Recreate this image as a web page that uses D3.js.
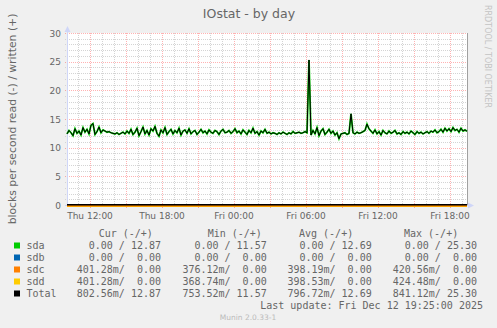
<!DOCTYPE html>
<meta charset="utf-8">
<style>
  body { margin: 0; background: #f0f0f0; }
  svg { display: block; font-family: "DejaVu Sans", sans-serif; }
  .mono { font-family: "DejaVu Sans Mono", monospace; font-size: 10px; fill: #666; white-space: pre; }
</style>
<body>
<svg width="497" height="328"></svg>

<script src="https://cdn.jsdelivr.net/npm/d3@7"></script>
<script>

// sda written, blocks/s, one reading every 10 minutes from Thu 10:05 to Fri 19:25
var written = [
  12.4, 13.0, 12.6, 12.1, 13.3, 12.5, 12.9, 12.2, 13.5, 12.7,
  13.2, 12.4, 13.9, 14.2, 12.3, 12.8, 13.6, 12.6, 13.1, 12.9,
  12.7, 12.8, 12.6, 12.5, 12.4, 12.6, 12.3, 12.5, 12.7, 12.4,
  12.9, 12.5, 13.2, 12.3, 12.7, 13.4, 12.1, 12.8, 13.6, 12.4,
  13.0, 12.2, 13.3, 12.9, 13.7, 12.5, 12.0, 13.1, 12.6, 13.5,
  12.3, 12.8, 13.2, 12.4, 13.0, 12.6, 13.4, 12.2, 12.9, 13.1,
  12.5, 13.3, 12.4, 12.8, 13.0, 12.3, 12.7,
  13.2, 12.6, 12.9, 12.4, 13.1, 12.7, 12.5, 13.0, 12.8, 12.3,
  12.9, 13.2, 12.6, 12.7, 13.0, 12.5, 12.8, 13.3, 12.6, 12.9,
  12.4, 13.1, 12.7, 12.3, 13.0, 12.6, 13.4, 12.5, 12.8, 12.2,
  12.9, 12.6, 13.2, 12.5, 12.7, 12.4, 12.6, 12.5, 12.3, 12.6,
  12.4, 12.7, 12.5, 12.3, 12.6, 12.4, 12.8, 12.5, 12.6, 12.7,
  12.5, 12.6, 12.8, 12.6,
  25.3,
  12.2, 13.0, 12.4, 13.5, 12.1, 12.9, 13.3, 12.3, 12.7, 13.2,
  12.5, 12.9, 12.2, 12.6, 11.57, 12.4, 12.5, 12.6, 12.3, 12.5,
  15.9,
  12.6, 12.4, 12.7, 12.5, 12.6, 12.8, 13.0,
  14.1,
  13.3, 12.9, 12.5, 13.1, 12.4, 12.8, 12.2, 13.0, 12.6, 12.4,
  12.9, 12.5, 12.7, 13.0, 12.4, 12.6, 12.3, 12.8, 12.5, 12.7,
  12.4, 12.9, 12.6, 12.3, 12.8, 12.5, 12.7, 12.4, 12.6, 12.8,
  12.5, 12.9, 12.7, 13.1, 12.6, 12.8, 13.2, 12.7, 13.4, 12.9,
  13.3, 12.8, 13.5, 13.0, 13.2, 12.7, 13.4, 12.9, 13.1,
  12.87
];

// read values (shown below zero), coarser sampling every 200 minutes
var sdcRead   = [0.40, 0.39, 0.40, 0.41, 0.38, 0.40, 0.42, 0.40, 0.39, 0.40, 0.40];
var sddRead   = [0.40, 0.40, 0.39, 0.41, 0.37, 0.40, 0.42, 0.40, 0.40, 0.39, 0.40];
var totalRead = [0.80, 0.79, 0.79, 0.82, 0.75, 0.80, 0.84, 0.80, 0.79, 0.79, 0.80];

var startTime = new Date(2025, 11, 11, 10, 5);
var endTime   = new Date(2025, 11, 12, 19, 25);

var yTicks = [0, 5, 10, 15, 20, 25, 30];

var legendNames  = ["sda", "sdb", "sdc", "sdd", "Total"];
var legendColors = ["#00cc00", "#0066b3", "#ff8000", "#ffcc00", "#000000"];
var legendHeads  = ["Cur (-/+)", "Min (-/+)", "Avg (-/+)", "Max (-/+)"];
var legendCur = ["0.00 / 12.87", "0.00 /  0.00", "401.28m/  0.00", "401.28m/  0.00", "802.56m/ 12.87"];
var legendMin = ["0.00 / 11.57", "0.00 /  0.00", "376.12m/  0.00", "368.74m/  0.00", "753.52m/ 11.57"];
var legendAvg = ["0.00 / 12.69", "0.00 /  0.00", "398.19m/  0.00", "398.53m/  0.00", "796.72m/ 12.69"];
var legendMax = ["0.00 / 25.30", "0.00 /  0.00", "420.56m/  0.00", "424.48m/  0.00", "841.12m/ 25.30"];

var svg = d3.select("svg"),
    margin = {top: 33, left: 67},
    width = 400,
    height = 172;

var x = d3.scaleTime().domain([startTime, endTime]).range([margin.left, margin.left + width]);
var y = d3.scaleLinear().domain([0, 30]).range([margin.top + height, margin.top]).clamp(true);

var step10 = 10 * 60 * 1000, step200 = 200 * 60 * 1000;

// canvas
svg.append("rect")
    .attr("x", margin.left).attr("y", margin.top)
    .attr("width", width).attr("height", height)
    .attr("fill", "#fff");

// grid
var grid = svg.append("g").attr("shape-rendering", "crispEdges");
var hours = x.ticks(d3.timeHour.every(1)),
    hours3 = x.ticks(d3.timeHour.every(3));

hours.filter(function(d) { return d.getHours() % 3 != 0; }).forEach(function(d) {
  grid.append("line")
      .attr("x1", Math.round(x(d)) + 0.5).attr("x2", Math.round(x(d)) + 0.5)
      .attr("y1", margin.top).attr("y2", margin.top + height + 2)
      .attr("stroke", "#d4d4d4").attr("stroke-dasharray", "1,1");
});
d3.range(0, 31).filter(function(v) { return v % 5 != 0; }).forEach(function(v) {
  grid.append("line")
      .attr("x1", margin.left - 2).attr("x2", margin.left + width)
      .attr("y1", Math.round(y(v)) + 0.5).attr("y2", Math.round(y(v)) + 0.5)
      .attr("stroke", "#d4d4d4").attr("stroke-dasharray", "1,1");
});
hours3.forEach(function(d) {
  grid.append("line")
      .attr("x1", Math.round(x(d)) + 0.5).attr("x2", Math.round(x(d)) + 0.5)
      .attr("y1", margin.top).attr("y2", margin.top + height + 3)
      .attr("stroke", "rgba(255,0,0,0.3)").attr("stroke-dasharray", "1,1");
});
yTicks.forEach(function(v) {
  grid.append("line")
      .attr("x1", margin.left - 2).attr("x2", margin.left + width)
      .attr("y1", Math.round(y(v)) + 0.5).attr("y2", Math.round(y(v)) + 0.5)
      .attr("stroke", "rgba(255,0,0,0.3)").attr("stroke-dasharray", "1,1");
});

// right frame line
svg.append("line")
    .attr("x1", margin.left + width + 0.5).attr("x2", margin.left + width + 0.5)
    .attr("y1", margin.top).attr("y2", margin.top + height)
    .attr("stroke", "#a0a0a0");

// axes with arrows
var axisCol = "#cfd6f8";
svg.append("line")
    .attr("x1", margin.left + 0.5).attr("x2", margin.left + 0.5)
    .attr("y1", margin.top + height + 2).attr("y2", margin.top - 4)
    .attr("stroke", axisCol);
svg.append("path")
    .attr("d", "M" + (margin.left - 2.5) + "," + (margin.top - 1) + "L" + (margin.left + 0.5) + "," + (margin.top - 7) + "L" + (margin.left + 3.5) + "," + (margin.top - 1) + "Z")
    .attr("fill", axisCol);
svg.append("line")
    .attr("x1", margin.left - 2).attr("x2", margin.left + width + 5)
    .attr("y1", margin.top + height + 0.5).attr("y2", margin.top + height + 0.5)
    .attr("stroke", axisCol);
svg.append("path")
    .attr("d", "M" + (margin.left + width + 1) + "," + (margin.top + height - 2.5) + "L" + (margin.left + width + 7) + "," + (margin.top + height + 0.5) + "L" + (margin.left + width + 1) + "," + (margin.top + height + 3.5) + "Z")
    .attr("fill", axisCol);

// series
var lineW = d3.line()
    .x(function(d, i) { return x(new Date(+startTime + i * step10)); })
    .y(function(d) { return y(d); });
var lineR = d3.line()
    .x(function(d, i) { return x(new Date(+startTime + i * step200)); })
    .y(function(d) { return y(-d); });

var plot = svg.append("g");
plot.append("path").datum(sddRead).attr("d", lineR)
    .attr("fill", "none").attr("stroke", "#ffcc00").attr("stroke-width", 2.6)
    .attr("transform", "translate(0,0.6)");
plot.append("path").datum(sdcRead).attr("d", lineR)
    .attr("fill", "none").attr("stroke", "#ff8000").attr("stroke-width", 1.6)
    .attr("transform", "translate(0,0.6)");
plot.append("path").datum(totalRead).attr("d", lineR)
    .attr("fill", "none").attr("stroke", "#000").attr("stroke-width", 1.5)
    .attr("transform", "translate(0,-0.2)");
plot.append("path").datum(written).attr("d", lineW)
    .attr("fill", "none").attr("stroke", "#00cc00").attr("stroke-width", 1.8);
plot.append("path").datum(written).attr("d", lineW)
    .attr("fill", "none").attr("stroke", "#000").attr("stroke-width", 1);

// tick labels
svg.append("g").selectAll("text")
    .data(yTicks)
  .enter().append("text")
    .attr("x", 61).attr("y", function(d) { return y(d) + 3.5; })
    .attr("text-anchor", "end")
    .attr("font-size", 9).attr("fill", "#666")
    .text(function(d) { return d; });

var fmt = d3.timeFormat("%a %H:%M");
svg.append("g").selectAll("text")
    .data(x.ticks(d3.timeHour.every(6)))
  .enter().append("text")
    .attr("x", function(d) { return x(d); }).attr("y", 219)
    .attr("text-anchor", "middle")
    .attr("font-size", 9).attr("fill", "#666")
    .text(function(d) { return fmt(d); });

// titles
svg.append("text")
    .attr("x", 249).attr("y", 18)
    .attr("text-anchor", "middle")
    .attr("font-size", 12.5).attr("fill", "#666")
    .text("IOstat - by day");

svg.append("text")
    .attr("transform", "translate(16," + (margin.top + height / 2) + ") rotate(-90)")
    .attr("text-anchor", "middle")
    .attr("font-size", 10.8).attr("fill", "#666")
    .text("blocks per second read (-) / written (+)");

svg.append("text")
    .attr("transform", "translate(485,5) rotate(90)")
    .attr("font-size", 8).attr("fill", "#c4c4c4")
    .text("RRDTOOL / TOBI OETIKER");

// legend
var legend = svg.append("g");
var headX = [98.7, 207.7, 299, 404];
legend.selectAll(".head")
    .data(legendHeads)
  .enter().append("text")
    .attr("class", "mono")
    .attr("x", function(d, i) { return headX[i]; }).attr("y", 237)
    .text(function(d) { return d; });

var rows = legend.selectAll(".row")
    .data(legendNames)
  .enter().append("g")
    .attr("transform", function(d, i) { return "translate(0," + (249 + i * 12) + ")"; });

rows.append("rect")
    .attr("x", 14).attr("y", -6.5)
    .attr("width", 6).attr("height", 6)
    .attr("fill", function(d, i) { return legendColors[i]; });
rows.append("text").attr("class", "mono").attr("x", 26.5).text(function(d) { return d; });

var cols = [legendCur, legendMin, legendAvg, legendMax],
    colEnd = [161, 266.7, 371.7, 477];
cols.forEach(function(col, c) {
  rows.append("text")
      .attr("class", "mono")
      .attr("x", colEnd[c]).attr("text-anchor", "end")
      .text(function(d, i) { return col[i]; });
});

legend.append("text")
    .attr("class", "mono")
    .attr("x", 483).attr("y", 309).attr("text-anchor", "end")
    .text("Last update: Fri Dec 12 19:25:00 2025");

svg.append("text")
    .attr("x", 248).attr("y", 319.5)
    .attr("text-anchor", "middle")
    .attr("font-size", 7.5).attr("fill", "#bbb")
    .text("Munin 2.0.33-1");

</script>
</body>
